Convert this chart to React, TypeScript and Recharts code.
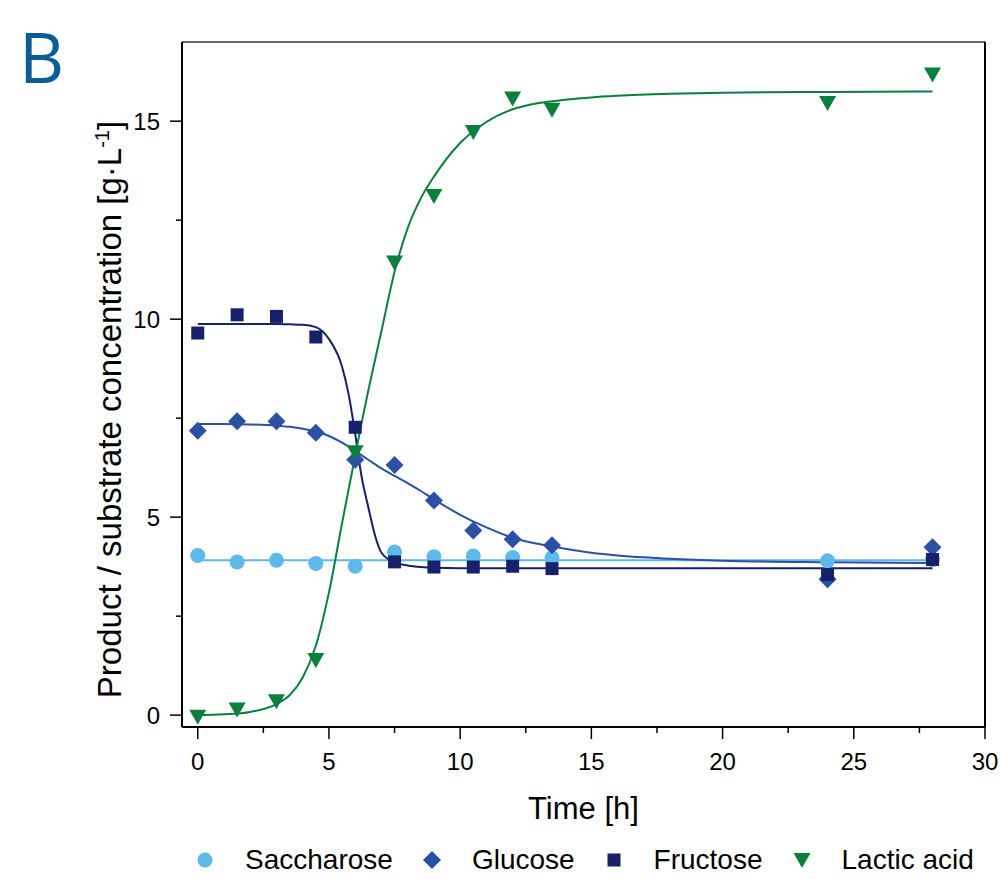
import React from 'react';
import { ComposedChart, Scatter, Line, XAxis, YAxis, Label, Legend } from 'recharts';

// sampling times of the fermentation [h]
const timeH = [0, 1.5, 3, 4.5, 6, 7.5, 9, 10.5, 12, 13.5, 24, 28];

// measured concentrations [g/L]
const saccharose = [4.03, 3.87, 3.91, 3.83, 3.76, 4.12, 4.0, 4.02, 3.98, 3.97, 3.9, 3.93];
const glucose = [7.18, 7.42, 7.42, 7.13, 6.45, 6.32, 5.42, 4.66, 4.44, 4.29, 3.43, 4.24];
const fructose = [9.65, 10.11, 10.07, 9.55, 7.27, 3.87, 3.74, 3.74, 3.76, 3.7, 3.55, 3.93];
const lacticAcid = [-0.04, 0.14, 0.35, 1.39, 6.64, 11.43, 13.11, 14.73, 15.57, 15.29, 15.46, 16.18];

// fitted curves
const fitTime = [0, 1, 2, 3, 3.5, 4, 4.5, 5, 5.5, 5.75, 6, 6.25, 6.5, 6.75, 7, 7.5, 8, 8.5, 9, 10, 11, 12, 13, 14, 15, 16, 18, 20, 24, 28];
const saccharoseFit = [3.91, 3.91, 3.91, 3.91, 3.91, 3.91, 3.91, 3.91, 3.91, 3.91, 3.91, 3.91, 3.91, 3.91, 3.91, 3.91, 3.91, 3.91, 3.91, 3.91, 3.91, 3.91, 3.91, 3.91, 3.91, 3.91, 3.91, 3.91, 3.91, 3.91];
const glucoseFit = [7.35, 7.35, 7.34, 7.31, 7.28, 7.23, 7.17, 7.05, 6.88, 6.78, 6.67, 6.56, 6.45, 6.34, 6.23, 6.04, 5.86, 5.66, 5.45, 5.06, 4.74, 4.48, 4.32, 4.2, 4.1, 4.03, 3.95, 3.9, 3.86, 3.84];
const fructoseFit = [9.88, 9.88, 9.88, 9.88, 9.87, 9.86, 9.8, 9.5, 8.8, 8.1, 7.1, 6.0, 5.25, 4.55, 4.1, 3.86, 3.78, 3.74, 3.72, 3.71, 3.71, 3.71, 3.71, 3.71, 3.71, 3.71, 3.71, 3.71, 3.71, 3.71];
const lacticFit = [0.0, 0.02, 0.08, 0.28, 0.5, 0.95, 1.75, 3.1, 4.85, 5.7, 6.55, 7.4, 8.2, 8.95, 9.7, 11.2, 12.3, 13.05, 13.6, 14.45, 14.98, 15.3, 15.46, 15.54, 15.6, 15.64, 15.69, 15.72, 15.74, 15.75];

const xTicks = [0, 2.5, 5, 7.5, 10, 12.5, 15, 17.5, 20, 22.5, 25, 27.5, 30];
const yTicks = [0, 2.5, 5, 7.5, 10, 12.5, 15];

const colors = {
  saccharose: '#5db9e9',
  glucose: '#2c50a4',
  fructose: '#17216a',
  lactic: '#0b7f3d',
};

const FONT = '"Liberation Sans", Arial, Helvetica, sans-serif';

const toPoints = (xs: number[], ys: number[]) => xs.map((x, i) => ({ x, y: ys[i] }));

// marker shapes
const CircleMark = ({ cx, cy, fill }: any) => <circle cx={cx} cy={cy} r={7.5} fill={fill} />;
const DiamondMark = ({ cx, cy, fill }: any) => (
  <polygon points={`${cx},${cy - 9} ${cx + 9},${cy} ${cx},${cy + 9} ${cx - 9},${cy}`} fill={fill} />
);
const SquareMark = ({ cx, cy, fill }: any) => <rect x={cx - 6.5} y={cy - 6.5} width={13} height={13} fill={fill} />;
const TriangleMark = ({ cx, cy, fill }: any) => (
  <polygon points={`${cx - 8.5},${cy - 7} ${cx + 8.5},${cy - 7} ${cx},${cy + 8}`} fill={fill} />
);

const legendItems = [
  { name: 'Saccharose', color: colors.saccharose, Mark: CircleMark },
  { name: 'Glucose', color: colors.glucose, Mark: DiamondMark },
  { name: 'Fructose', color: colors.fructose, Mark: SquareMark },
  { name: 'Lactic acid', color: colors.lactic, Mark: TriangleMark },
];

const XTick = (props: any) => {
  const { x, y, payload } = props;
  const major = payload.value % 5 === 0;
  return (
    <g>
      <line x1={x} x2={x} y1={y} y2={y + (major ? 12 : 6)} stroke="#000" strokeWidth={1.5} />
      {major && (
        <text x={x} y={y + 43} textAnchor="middle" fontSize={24} fill="#000" fontFamily={FONT}>
          {payload.value}
        </text>
      )}
    </g>
  );
};

const YTick = (props: any) => {
  const { x, y, payload } = props;
  const major = payload.value % 5 === 0;
  return (
    <g>
      <line x1={x - (major ? 12 : 6)} x2={x} y1={y} y2={y} stroke="#000" strokeWidth={1.5} />
      {major && (
        <text x={x - 22} y={y + 8.5} textAnchor="end" fontSize={24} fill="#000" fontFamily={FONT}>
          {payload.value}
        </text>
      )}
    </g>
  );
};

const XTitle = ({ viewBox }: any) => (
  <text x={viewBox.x + viewBox.width / 2} y={viewBox.y + 92} textAnchor="middle" fontSize={31} fill="#000" fontFamily={FONT}>
    Time [h]
  </text>
);

const YTitle = ({ viewBox }: any) => (
  <text
    transform={`translate(${viewBox.x - 60}, ${viewBox.y + viewBox.height / 2 + 25}) rotate(-90)`}
    textAnchor="middle"
    fontSize={33}
    fill="#000"
    fontFamily={FONT}
  >
    Product / substrate concentration [g·L
    <tspan dy={-12} fontSize={20}>-1</tspan>
    <tspan dy={12}>]</tspan>
  </text>
);

const LegendContent = () => (
  <div style={{ display: 'flex', alignItems: 'center', paddingLeft: 195, fontFamily: FONT, fontSize: 28, color: '#000', whiteSpace: 'nowrap', width: 1100 }}>
    {legendItems.map((item) => (
      <div key={item.name} style={{ display: 'flex', alignItems: 'center', marginRight: 29, flexShrink: 0 }}>
        <svg width={20} height={20} style={{ marginRight: 30, flexShrink: 0 }}>
          <item.Mark cx={10} cy={10} fill={item.color} />
        </svg>
        <span>{item.name}</span>
      </div>
    ))}
  </div>
);

export default function App() {
  return (
    <div style={{ position: 'absolute', left: 0, top: 0, width: 1000, height: 879, background: '#fff', overflow: 'hidden' }}>
      <svg width={130} height={120} style={{ position: 'absolute', left: 0, top: 0 }}>
        <text x={19} y={83} fontSize={70} fill="#0b5e95" fontFamily='"Open Sans", "Noto Sans", sans-serif'>
          B
        </text>
      </svg>
      <ComposedChart width={1000} height={879} margin={{ top: 41, right: 14, bottom: 151, left: 181 }}>
        <XAxis
          dataKey="x"
          type="number"
          domain={[-0.6, 30]}
          ticks={xTicks}
          interval={0}
          allowDataOverflow
          height={1}
          tickSize={0}
          tickMargin={0}
          tickLine={false}
          axisLine={{ stroke: '#000', strokeWidth: 2 }}
          tick={<XTick />}
        >
          <Label content={<XTitle />} />
        </XAxis>
        <XAxis
          xAxisId="top"
          orientation="top"
          type="number"
          domain={[-0.6, 30]}
          height={1}
          tick={false}
          tickLine={false}
          axisLine={{ stroke: '#333', strokeWidth: 1.5 }}
        />
        <YAxis
          dataKey="y"
          type="number"
          domain={[-0.3, 17]}
          ticks={yTicks}
          interval={0}
          allowDataOverflow
          width={1}
          tickSize={0}
          tickMargin={0}
          tickLine={false}
          axisLine={{ stroke: '#000', strokeWidth: 2 }}
          tick={<YTick />}
        >
          <Label content={<YTitle />} />
        </YAxis>
        <YAxis
          yAxisId="right"
          orientation="right"
          type="number"
          domain={[-0.3, 17]}
          width={1}
          tick={false}
          tickLine={false}
          axisLine={{ stroke: '#000', strokeWidth: 2 }}
        />
        <Legend layout="horizontal" verticalAlign="middle" align="center" wrapperStyle={{ top: 844, left: 0, width: 1000 }} content={<LegendContent />} />

        <Scatter name="Saccharose" data={toPoints(timeH, saccharose)} fill={colors.saccharose} shape={<CircleMark />} isAnimationActive={false} />
        <Scatter name="Glucose" data={toPoints(timeH, glucose)} fill={colors.glucose} shape={<DiamondMark />} isAnimationActive={false} />
        <Scatter name="Fructose" data={toPoints(timeH, fructose)} fill={colors.fructose} shape={<SquareMark />} isAnimationActive={false} />
        <Scatter name="Lactic acid" data={toPoints(timeH, lacticAcid)} fill={colors.lactic} shape={<TriangleMark />} isAnimationActive={false} />

        <Line data={toPoints(fitTime, saccharoseFit)} dataKey="y" type="monotone" stroke={colors.saccharose} strokeWidth={2} dot={false} legendType="none" isAnimationActive={false} />
        <Line data={toPoints(fitTime, glucoseFit)} dataKey="y" type="monotone" stroke={colors.glucose} strokeWidth={2} dot={false} legendType="none" isAnimationActive={false} />
        <Line data={toPoints(fitTime, fructoseFit)} dataKey="y" type="monotone" stroke={colors.fructose} strokeWidth={2} dot={false} legendType="none" isAnimationActive={false} />
        <Line data={toPoints(fitTime, lacticFit)} dataKey="y" type="monotone" stroke={colors.lactic} strokeWidth={2} dot={false} legendType="none" isAnimationActive={false} />
      </ComposedChart>
    </div>
  );
}
